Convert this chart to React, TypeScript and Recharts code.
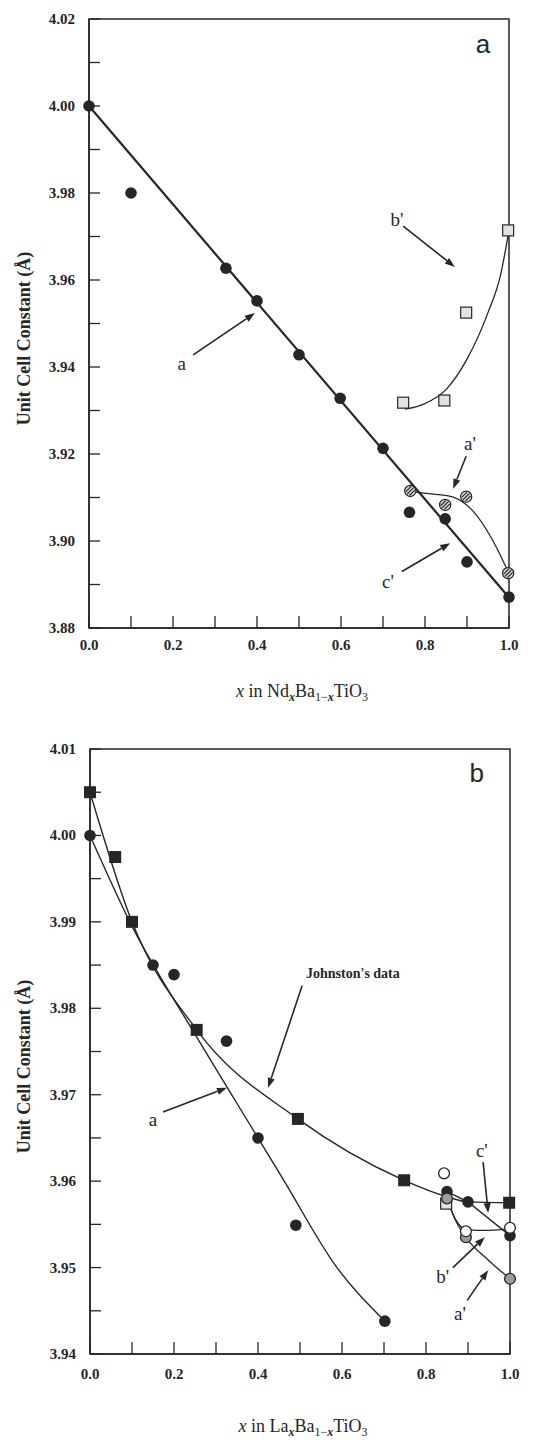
import React from 'react';
import {
  ComposedChart,
  XAxis,
  YAxis,
  Line,
  Scatter,
  ReferenceArea,
  ReferenceLine,
  ReferenceDot,
  Label,
} from 'recharts';

const SERIF = '"Liberation Serif", "DejaVu Serif", serif';
const SANS = '"Liberation Sans", Arial, sans-serif';
const INK = '#262626';

// ---------- shared ----------
const xTicks = [0, 0.1, 0.2, 0.3, 0.4, 0.5, 0.6, 0.7, 0.8, 0.9, 1.0];

// ---------- panel a : NdxBa1-xTiO3 ----------
const aYTicks = [3.88, 3.89, 3.9, 3.91, 3.92, 3.93, 3.94, 3.95, 3.96, 3.97, 3.98, 3.99, 4.0, 4.01, 4.02];
const aFilledCircles = [
  { x: 0, y: 4.0 },
  { x: 0.1, y: 3.98 },
  { x: 0.326, y: 3.9627 },
  { x: 0.4, y: 3.9552 },
  { x: 0.5, y: 3.9428 },
  { x: 0.598, y: 3.9328 },
  { x: 0.7, y: 3.9213 },
  { x: 0.763, y: 3.9066 },
  { x: 0.848, y: 3.9051 },
  { x: 0.9, y: 3.8952 },
  { x: 1.0, y: 3.8871 },
];
const aLineFit = [
  { x: 0, y: 4.0 },
  { x: 1.0, y: 3.887 },
];
const aHatchedCircles = [
  { x: 0.765, y: 3.9115 },
  { x: 0.848, y: 3.9083 },
  { x: 0.898, y: 3.9102 },
  { x: 0.998, y: 3.8926 },
];
const aPrimeCurve = [
  { x: 0.765, y: 3.9113 },
  { x: 0.82, y: 3.9108 },
  { x: 0.867, y: 3.9101 },
  { x: 0.915, y: 3.9068 },
  { x: 0.962, y: 3.9 },
  { x: 1.0, y: 3.8925 },
];
const aOpenSquares = [
  { x: 0.748, y: 3.9318 },
  { x: 0.846, y: 3.9323 },
  { x: 0.898, y: 3.9525 },
  { x: 0.998, y: 3.9714 },
];
const bPrimeCurveA = [
  { x: 0.752, y: 3.9303 },
  { x: 0.8, y: 3.9316 },
  { x: 0.85, y: 3.9348 },
  { x: 0.9, y: 3.9418 },
  { x: 0.95, y: 3.9525 },
  { x: 0.98, y: 3.9612 },
  { x: 1.0, y: 3.9714 },
];
const aTexts = [
  { x: 0.221, y: 3.9407, text: 'a' },
  { x: 0.733, y: 3.974, text: "b'" },
  { x: 0.907, y: 3.9225, text: "a'" },
  { x: 0.712, y: 3.8908, text: "c'" },
];
const aArrows = [
  { x1: 0.248, y1: 3.9428, x2: 0.395, y2: 3.9524 },
  { x1: 0.748, y1: 3.9724, x2: 0.871, y2: 3.963 },
  { x1: 0.898, y1: 3.9195, x2: 0.867, y2: 3.912 },
  { x1: 0.745, y1: 3.893, x2: 0.86, y2: 3.8995 },
];
const aPanel = { x: 0.938, y: 4.0143, text: 'a' };

// ---------- panel b : LaxBa1-xTiO3 ----------
const bYTicks = [3.94, 3.945, 3.95, 3.955, 3.96, 3.965, 3.97, 3.975, 3.98, 3.985, 3.99, 3.995, 4.0, 4.005, 4.01];
const bFilledCircles = [
  { x: 0, y: 4.0 },
  { x: 0.15, y: 3.985 },
  { x: 0.2, y: 3.9839 },
  { x: 0.325, y: 3.9762 },
  { x: 0.4, y: 3.965 },
  { x: 0.49, y: 3.9549 },
  { x: 0.702, y: 3.9438 },
];
const bLaCurve = [
  { x: 0, y: 4.0 },
  { x: 0.1, y: 3.9895 },
  { x: 0.25, y: 3.977 },
  { x: 0.4, y: 3.965 },
  { x: 0.46, y: 3.9602 },
  { x: 0.585, y: 3.9502 },
  { x: 0.702, y: 3.9438 },
];
const bJohnstonSquares = [
  { x: 0, y: 4.005 },
  { x: 0.06, y: 3.9975 },
  { x: 0.1, y: 3.99 },
  { x: 0.254, y: 3.9775 },
  { x: 0.495, y: 3.9672 },
  { x: 0.748, y: 3.9601 },
  { x: 0.998, y: 3.9575 },
];
const bJohnstonCurve = [
  { x: 0, y: 4.005 },
  { x: 0.1, y: 3.99 },
  { x: 0.254, y: 3.9775 },
  { x: 0.495, y: 3.9672 },
  { x: 0.748, y: 3.9601 },
  { x: 0.85, y: 3.9582 },
  { x: 0.9, y: 3.9576 },
  { x: 1.0, y: 3.9575 },
];
const bCPrimeCircles = [
  { x: 0.85, y: 3.9588 },
  { x: 0.9, y: 3.9576 },
  { x: 1.0, y: 3.9537 },
];
const bCPrimeLine = [
  { x: 0.85, y: 3.9588 },
  { x: 0.9, y: 3.9576 },
  { x: 1.0, y: 3.9537 },
];
const bBPrimeOpen = [
  { x: 0.843, y: 3.9609 },
  { x: 0.895, y: 3.9542 },
  { x: 1.0, y: 3.9546 },
];
const bBPrimeCurve = [
  { x: 0.85, y: 3.958 },
  { x: 0.87, y: 3.9556 },
  { x: 0.895, y: 3.9544 },
  { x: 0.95, y: 3.9543 },
  { x: 1.0, y: 3.9545 },
];
const bAPrimeGrey = [
  { x: 0.85, y: 3.958 },
  { x: 0.895, y: 3.9535 },
  { x: 1.0, y: 3.9487 },
];
const bAPrimeCurve = [
  { x: 0.85, y: 3.958 },
  { x: 0.87, y: 3.9555 },
  { x: 0.895, y: 3.9535 },
  { x: 0.95, y: 3.9508 },
  { x: 1.0, y: 3.9487 },
];
const bOpenSquare = [{ x: 0.848, y: 3.9574 }];
const bTexts = [
  { x: 0.15, y: 3.9671, text: 'a' },
  { x: 0.933, y: 3.9635, text: "c'" },
  { x: 0.84, y: 3.949, text: "b'" },
  { x: 0.881, y: 3.9447, text: "a'" },
];
const bJohnstonText = { x: 0.626, y: 3.984, text: "Johnston's data" };
const bArrows = [
  { x1: 0.505, y1: 3.9826, x2: 0.424, y2: 3.9708 },
  { x1: 0.174, y1: 3.968, x2: 0.326, y2: 3.9708 },
  { x1: 0.936, y1: 3.9622, x2: 0.948, y2: 3.9563 },
  { x1: 0.864, y1: 3.95, x2: 0.94, y2: 3.9535 },
  { x1: 0.898, y1: 3.9462, x2: 0.948, y2: 3.9497 },
];
const bPanel = { x: 0.921, y: 4.0072, text: 'b' };

// ---------- shapes ----------
const FilledCircle = (p: any) => <circle cx={p.cx} cy={p.cy} r={5.8} fill={INK} />;
const OpenCircle = (p: any) => (
  <circle cx={p.cx} cy={p.cy} r={5.4} fill="#ffffff" stroke={INK} strokeWidth={1.3} />
);
const GreyCircle = (p: any) => (
  <circle cx={p.cx} cy={p.cy} r={5.4} fill="#9c9c9c" stroke={INK} strokeWidth={1.3} />
);
const HatchedCircle = (p: any) => {
  const { cx, cy } = p;
  const r = 5.6;
  const offs = [-2.6, 0, 2.6];
  return (
    <g>
      <circle cx={cx} cy={cy} r={r} fill="#d4d4d4" stroke={INK} strokeWidth={1.2} />
      {offs.map((d, i) => {
        const h = Math.sqrt(Math.max(0, (r - 1) * (r - 1) - d * d));
        const px = cx + d * 0.7071;
        const py = cy + d * 0.7071;
        return (
          <line
            key={i}
            x1={px - h * 0.7071}
            y1={py + h * 0.7071}
            x2={px + h * 0.7071}
            y2={py - h * 0.7071}
            stroke={INK}
            strokeWidth={1.1}
          />
        );
      })}
    </g>
  );
};
const OpenSquare = (p: any) => (
  <rect x={p.cx - 5.5} y={p.cy - 5.5} width={11} height={11} fill="#e2e2e2" stroke={INK} strokeWidth={1.2} />
);
const FilledSquare = (p: any) => (
  <rect x={p.cx - 6} y={p.cy - 6} width={12} height={12} fill={INK} />
);

const Arrow = (p: any) => {
  const { x1, y1, x2, y2 } = p;
  const ang = Math.atan2(y2 - y1, x2 - x1);
  const c = Math.cos(ang);
  const s = Math.sin(ang);
  const L = 10;
  const W = 3.6;
  const bx = x2 - L * c;
  const by = y2 - L * s;
  return (
    <g>
      <line x1={x1} y1={y1} x2={bx} y2={by} stroke={INK} strokeWidth={1.6} />
      <polygon
        points={`${x2},${y2} ${bx + W * s},${by - W * c} ${bx - W * s},${by + W * c}`}
        fill={INK}
      />
    </g>
  );
};

// ---------- ticks ----------
const makeYTick = (isMajor: (v: number) => boolean) => (props: any) => {
  const { x, y, payload } = props;
  const v = payload.value as number;
  return (
    <g>
      <line x1={x} y1={y} x2={x + 11} y2={y} stroke={INK} strokeWidth={1.3} />
      {isMajor(v) && (
        <text
          x={x - 14}
          y={y}
          dy={5}
          textAnchor="end"
          fontFamily={SERIF}
          fontWeight="bold"
          fontSize={15}
          fill={INK}
        >
          {v.toFixed(2)}
        </text>
      )}
    </g>
  );
};
const makeXTick = (labelDy: number) => (props: any) => {
  const { x, y, payload } = props;
  const v = payload.value as number;
  const major = Math.round(v * 10) % 2 === 0;
  return (
    <g>
      <line x1={x} y1={y} x2={x} y2={y - 12} stroke={INK} strokeWidth={1.3} />
      {major && (
        <text
          x={x}
          y={y + labelDy}
          textAnchor="middle"
          fontFamily={SERIF}
          fontWeight="bold"
          fontSize={15}
          fill={INK}
        >
          {v.toFixed(1)}
        </text>
      )}
    </g>
  );
};

const aYTick = makeYTick((v) => Math.round(v * 100) % 2 === 0);
const bYTick = makeYTick((v) => Math.abs(v * 100 - Math.round(v * 100)) < 1e-6);

const yLabelContent = (shift: number) => (props: any) => {
  const vb = props.viewBox || {};
  const cx = (vb.x || 0) + 16;
  const cy = (vb.y || 0) + (vb.height || 0) / 2 + shift;
  return (
    <text
      x={cx}
      y={cy}
      transform={`rotate(-90, ${cx}, ${cy})`}
      textAnchor="middle"
      dominantBaseline="central"
      fontFamily={SERIF}
      fontWeight="bold"
      fontSize={18}
      fill={INK}
    >
      Unit Cell Constant (Å)
    </text>
  );
};

const xLabelContent = (elem: string, offset: number) => (props: any) => {
  const vb = props.viewBox || {};
  const cx = (vb.x || 0) + (vb.width || 0) / 2 + 3;
  const y = (vb.y || 0) + offset;
  return (
    <text x={cx} y={y} textAnchor="middle" fontFamily={SERIF} fontSize={18} fill={INK}>
      <tspan fontStyle="italic">x</tspan>
      <tspan> in {elem}</tspan>
      <tspan fontStyle="italic" fontWeight="bold" fontSize={12} dy={4}>x</tspan>
      <tspan dy={-4}>Ba</tspan>
      <tspan fontSize={12} dy={4}>1−</tspan>
      <tspan fontStyle="italic" fontWeight="bold" fontSize={12}>x</tspan>
      <tspan dy={-4}>TiO</tspan>
      <tspan fontSize={12} dy={4}>3</tspan>
    </text>
  );
};

const textShape = (t: string, size: number, family: string, weight: string = 'normal') => (p: any) => (
  <text
    x={p.cx}
    y={p.cy}
    textAnchor="middle"
    dominantBaseline="central"
    fontFamily={family}
    fontSize={size}
    fontWeight={weight}
    fill={INK}
  >
    {t}
  </text>
);

function PanelA() {
  return (
    <ComposedChart width={527} height={700} margin={{ top: 11, right: 26, bottom: 0, left: 0 }}>
      <XAxis
        dataKey="x"
        type="number"
        domain={[0, 1]}
        ticks={xTicks}
        interval={0}
        tickSize={0}
        tickMargin={0}
        tickLine={false}
        tick={makeXTick(22)}
        height={80}
        axisLine={{ stroke: INK, strokeWidth: 1.5 }}
      >
        <Label content={xLabelContent('Nd', 69)} />
      </XAxis>
      <YAxis
        dataKey="y"
        type="number"
        domain={[3.88, 4.02]}
        ticks={aYTicks}
        interval={0}
        tickSize={0}
        tickMargin={0}
        tickLine={false}
        tick={aYTick}
        width={81}
        axisLine={{ stroke: INK, strokeWidth: 1.5 }}
      >
        <Label content={yLabelContent(15)} />
      </YAxis>
      <ReferenceArea x1={0} x2={1} y1={3.88} y2={4.02} fill="none" stroke={INK} strokeWidth={1.5} fillOpacity={0} />
      <Line data={aLineFit} dataKey="y" type="linear" dot={false} stroke={INK} strokeWidth={2.2} isAnimationActive={false} />
      <Line data={aPrimeCurve} dataKey="y" type="monotone" dot={false} stroke={INK} strokeWidth={1.3} isAnimationActive={false} />
      <Line data={bPrimeCurveA} dataKey="y" type="monotone" dot={false} stroke={INK} strokeWidth={1.3} isAnimationActive={false} />
      <Scatter data={aFilledCircles} dataKey="y" shape={FilledCircle} isAnimationActive={false} />
      <Scatter data={aHatchedCircles} dataKey="y" shape={HatchedCircle} isAnimationActive={false} />
      <Scatter data={aOpenSquares} dataKey="y" shape={OpenSquare} isAnimationActive={false} />
      {aArrows.map((a, i) => (
        <ReferenceLine
          key={'aa' + i}
          segment={[{ x: a.x1, y: a.y1 }, { x: a.x2, y: a.y2 }]}
          ifOverflow="visible"
          shape={Arrow}
        />
      ))}
      {aTexts.map((t, i) => (
        <ReferenceDot key={'at' + i} x={t.x} y={t.y} ifOverflow="visible" shape={textShape(t.text, 19, SERIF)} />
      ))}
      <ReferenceDot x={aPanel.x} y={aPanel.y} ifOverflow="visible" shape={textShape(aPanel.text, 26, SANS)} />
    </ComposedChart>
  );
}

function PanelB() {
  return (
    <ComposedChart width={527} height={734} margin={{ top: 41, right: 25, bottom: 0, left: 0 }}>
      <XAxis
        dataKey="x"
        type="number"
        domain={[0, 1]}
        ticks={xTicks}
        interval={0}
        tickSize={0}
        tickMargin={0}
        tickLine={false}
        tick={makeXTick(25)}
        height={88}
        axisLine={{ stroke: INK, strokeWidth: 1.5 }}
      >
        <Label content={xLabelContent('La', 78)} />
      </XAxis>
      <YAxis
        dataKey="y"
        type="number"
        domain={[3.94, 4.01]}
        ticks={bYTicks}
        interval={0}
        tickSize={0}
        tickMargin={0}
        tickLine={false}
        tick={bYTick}
        width={82}
        axisLine={{ stroke: INK, strokeWidth: 1.5 }}
      >
        <Label content={yLabelContent(15)} />
      </YAxis>
      <ReferenceArea x1={0} x2={1} y1={3.94} y2={4.01} fill="none" stroke={INK} strokeWidth={1.5} fillOpacity={0} />
      <Line data={bLaCurve} dataKey="y" type="monotone" dot={false} stroke={INK} strokeWidth={1.4} isAnimationActive={false} />
      <Line data={bJohnstonCurve} dataKey="y" type="monotone" dot={false} stroke={INK} strokeWidth={1.4} isAnimationActive={false} />
      <Line data={bCPrimeLine} dataKey="y" type="linear" dot={false} stroke={INK} strokeWidth={1.4} isAnimationActive={false} />
      <Line data={bBPrimeCurve} dataKey="y" type="monotone" dot={false} stroke={INK} strokeWidth={1.3} isAnimationActive={false} />
      <Line data={bAPrimeCurve} dataKey="y" type="monotone" dot={false} stroke={INK} strokeWidth={1.3} isAnimationActive={false} />
      <Scatter data={bJohnstonSquares} dataKey="y" shape={FilledSquare} isAnimationActive={false} />
      <Scatter data={bOpenSquare} dataKey="y" shape={OpenSquare} isAnimationActive={false} />
      <Scatter data={bFilledCircles} dataKey="y" shape={FilledCircle} isAnimationActive={false} />
      <Scatter data={bCPrimeCircles} dataKey="y" shape={FilledCircle} isAnimationActive={false} />
      <Scatter data={bAPrimeGrey} dataKey="y" shape={GreyCircle} isAnimationActive={false} />
      <Scatter data={bBPrimeOpen} dataKey="y" shape={OpenCircle} isAnimationActive={false} />
      {bArrows.map((a, i) => (
        <ReferenceLine
          key={'ba' + i}
          segment={[{ x: a.x1, y: a.y1 }, { x: a.x2, y: a.y2 }]}
          ifOverflow="visible"
          shape={Arrow}
        />
      ))}
      {bTexts.map((t, i) => (
        <ReferenceDot key={'bt' + i} x={t.x} y={t.y} ifOverflow="visible" shape={textShape(t.text, 19, SERIF)} />
      ))}
      <ReferenceDot
        x={bJohnstonText.x}
        y={bJohnstonText.y}
        ifOverflow="visible"
        shape={textShape(bJohnstonText.text, 14, SERIF, 'bold')}
      />
      <ReferenceDot x={bPanel.x} y={bPanel.y} ifOverflow="visible" shape={textShape(bPanel.text, 26, SANS)} />
    </ComposedChart>
  );
}

export default function App() {
  return (
    <div style={{ position: 'relative', width: 527, height: 1434, background: '#ffffff' }}>
      <div style={{ position: 'absolute', left: 0, top: 0 }}>
        <PanelA />
      </div>
      <div style={{ position: 'absolute', left: 0, top: 700 }}>
        <PanelB />
      </div>
    </div>
  );
}
